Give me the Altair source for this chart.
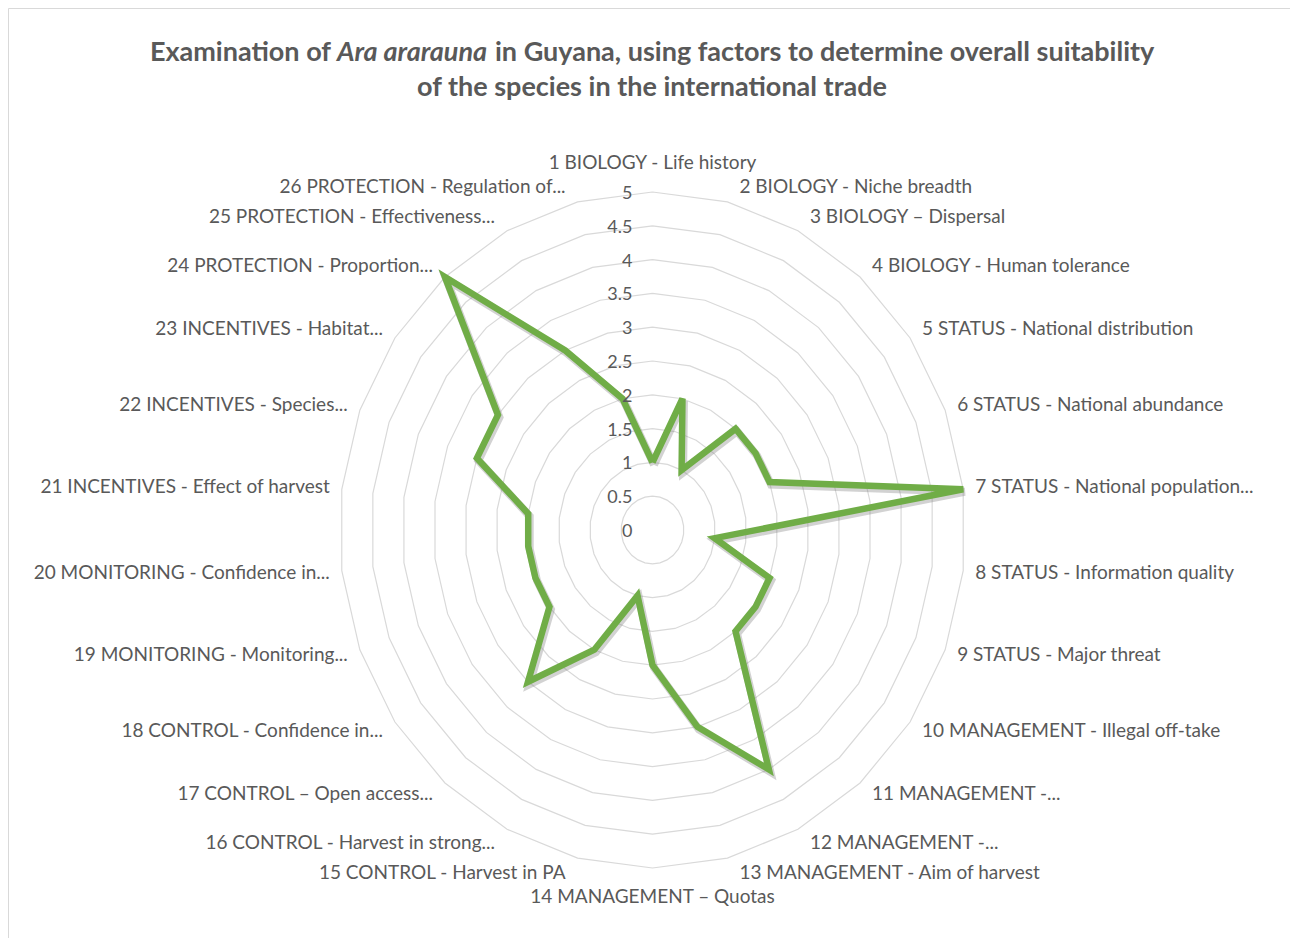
import altair as alt
import pandas as pd

# ---------------- data ----------------
categories = [
    "1 BIOLOGY - Life history",
    "2 BIOLOGY - Niche breadth",
    "3 BIOLOGY – Dispersal",
    "4 BIOLOGY - Human tolerance",
    "5 STATUS - National distribution",
    "6 STATUS - National abundance",
    "7 STATUS  - National population...",
    "8 STATUS - Information quality",
    "9 STATUS  - Major threat",
    "10 MANAGEMENT - Illegal off-take",
    "11 MANAGEMENT -...",
    "12 MANAGEMENT -...",
    "13 MANAGEMENT - Aim of harvest",
    "14 MANAGEMENT – Quotas",
    "15 CONTROL - Harvest in PA",
    "16 CONTROL - Harvest in strong...",
    "17 CONTROL – Open access...",
    "18 CONTROL - Confidence in...",
    "19 MONITORING - Monitoring...",
    "20 MONITORING - Confidence in...",
    "21 INCENTIVES - Effect of harvest",
    "22 INCENTIVES - Species...",
    "23 INCENTIVES - Habitat...",
    "24 PROTECTION - Proportion...",
    "25 PROTECTION - Effectiveness...",
    "26 PROTECTION - Regulation of...",
]
values = [1, 2, 1, 2, 2, 2, 5, 1, 2, 2, 2, 4, 3, 2, 1, 2, 3, 2, 2, 2, 2, 3, 3, 5, 3, 2]
ring_levels = [0.5, 1, 1.5, 2, 2.5, 3, 3.5, 4, 4.5, 5]
tick_values = [0, 0.5, 1, 1.5, 2, 2.5, 3, 3.5, 4, 4.5, 5]
tick_labels = ["0", "0.5", "1", "1.5", "2", "2.5", "3", "3.5", "4", "4.5", "5"]

title_a = "Examination of"
title_b = "Ara ararauna"
title_c = "in Guyana, using factors to determine overall suitability"
title_2 = "of the species in the international trade"

# ---------------- layout ----------------
W, H = 1282, 930
CX, CY = 644.5, 522.0      # centre of the radar in canvas px
XU, YU = 62.6, 67.6        # px per unit horizontally / vertically
N = len(categories)
RMAX = 5
GREY = "#595959"
FONT = "Lato"

xscale = alt.Scale(domain=[-CX / XU, (W - CX) / XU], nice=False, zero=False)
yscale = alt.Scale(domain=[-(H - CY) / YU, CY / YU], nice=False, zero=False)

# ---------------- tables ----------------
n_series = len(values)
series_df = pd.DataFrame({
    "idx": list(range(n_series)) + [n_series],
    "value": values + [values[0]],
})
grid_rows = []
for lev in ring_levels:
    for k in range(N + 1):
        grid_rows.append({"level": lev, "idx": k})
grid_df = pd.DataFrame(grid_rows)
tick_df = pd.DataFrame({"level": tick_values, "label": tick_labels})
cat_df = pd.DataFrame({"idx": list(range(N)), "cat": categories})
title_df = pd.DataFrame({"a": [title_a], "b": [title_b], "c": [title_c], "l2": [title_2]})

theta = f"2*PI*(datum.idx % {N})/{N}"

grid = alt.Chart(grid_df).transform_calculate(
    th=theta
).transform_calculate(
    x="datum.level*sin(datum.th)", y="datum.level*cos(datum.th)"
).mark_line(color="#d9d9d9", strokeWidth=1.2).encode(
    x=alt.X("x:Q", scale=xscale, axis=None),
    y=alt.Y("y:Q", scale=yscale, axis=None),
    detail="level:N",
    order="idx:Q",
)

series_base = alt.Chart(series_df).transform_calculate(
    th=theta
).transform_calculate(
    x="datum.value*sin(datum.th)", y="datum.value*cos(datum.th)"
)
shadow = series_base.mark_line(
    color="#7f7f7f", opacity=0.35, strokeWidth=8, xOffset=1.5, yOffset=2.5, strokeJoin="miter"
).encode(
    x=alt.X("x:Q", scale=xscale, axis=None),
    y=alt.Y("y:Q", scale=yscale, axis=None),
    order="idx:Q",
)
line = series_base.mark_line(
    color="#70AD47", strokeWidth=6.5, strokeJoin="miter"
).encode(
    x=alt.X("x:Q", scale=xscale, axis=None),
    y=alt.Y("y:Q", scale=yscale, axis=None),
    order="idx:Q",
)

ticks = alt.Chart(tick_df).transform_calculate(x0="0").mark_text(
    align="right", baseline="middle", dx=-20, dy=2, font=FONT, fontSize=18, color=GREY
).encode(
    x=alt.X("x0:Q", scale=xscale, axis=None),
    y=alt.Y("level:Q", scale=yscale, axis=None),
    text="label:N",
)

cat_base = alt.Chart(cat_df).transform_calculate(
    th=theta
).transform_calculate(
    s="sin(datum.th)", c="cos(datum.th)"
).transform_calculate(
    lx=f"{RMAX}*datum.s",
    ly=f"abs(datum.s) < 0.01 ? datum.c*({RMAX} + 29/{YU}) : datum.c*({RMAX} + 15/{YU})",
)
lab_kw = dict(baseline="middle", font=FONT, fontSize=19, color=GREY)
enc = dict(
    x=alt.X("lx:Q", scale=xscale, axis=None),
    y=alt.Y("ly:Q", scale=yscale, axis=None),
    text="cat:N",
)
lab_right = cat_base.transform_filter("datum.s > 0.01").mark_text(align="left", dx=12, **lab_kw).encode(**enc)
lab_left = cat_base.transform_filter("datum.s < -0.01").mark_text(align="right", dx=-12, **lab_kw).encode(**enc)
lab_mid = cat_base.transform_filter("abs(datum.s) <= 0.01").mark_text(align="center", **lab_kw).encode(**enc)

tkw = dict(baseline="middle", font=FONT, fontSize=27, fontWeight="bold", color=GREY)
t_a = alt.Chart(title_df).mark_text(align="right", **tkw).encode(
    x=alt.value(323), y=alt.value(45), text="a:N")
t_b = alt.Chart(title_df).mark_text(align="left", fontStyle="italic", **tkw).encode(
    x=alt.value(329), y=alt.value(45), text="b:N")
t_c = alt.Chart(title_df).mark_text(align="left", **tkw).encode(
    x=alt.value(487), y=alt.value(45), text="c:N")
t_2 = alt.Chart(title_df).mark_text(align="center", **tkw).encode(
    x=alt.value(644), y=alt.value(80), text="l2:N")

chart = alt.layer(
    grid, shadow, line, ticks, lab_right, lab_left, lab_mid, t_a, t_b, t_c, t_2
).properties(
    width=W, height=H, padding=0,
    autosize=alt.AutoSizeParams(type="none"),
    background="white",
).configure_view(stroke="#d9d9d9", strokeWidth=1)

chart.save("out.html", embed_options={"renderer": "svg", "actions": False})
